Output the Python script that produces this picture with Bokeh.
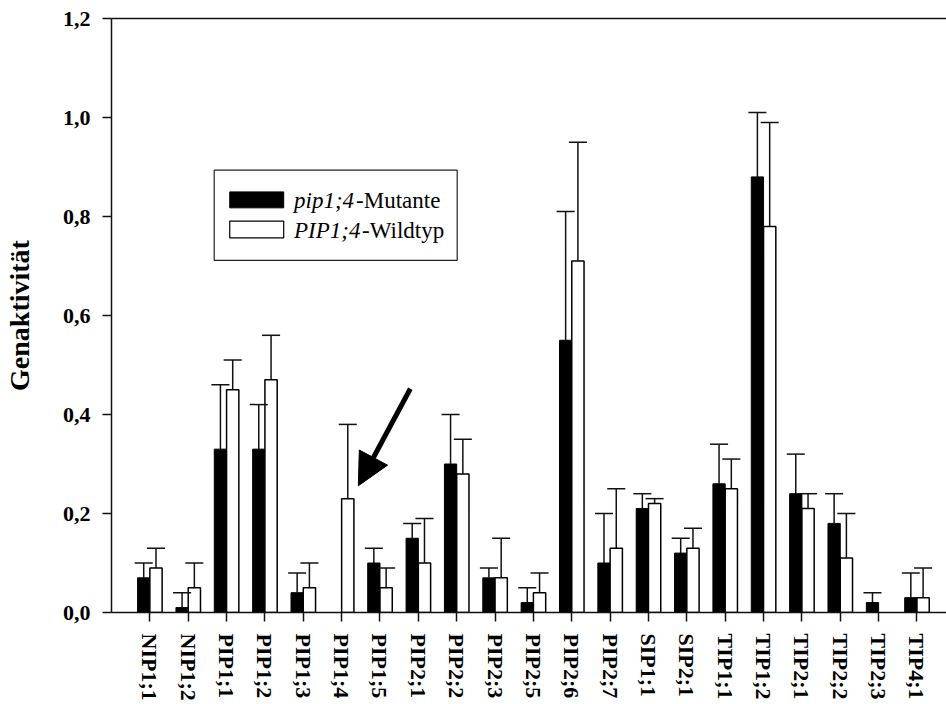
from bokeh.plotting import figure
from bokeh.models import Range1d, FixedTicker, LinearAxis, Arrow, NormalHead
from bokeh.core.properties import value
from bokeh.embed import file_html
from bokeh.resources import INLINE

genes = ["NIP1;1", "NIP1;2", "PIP1;1", "PIP1;2", "PIP1;3", "PIP1;4", "PIP1;5",
         "PIP2;1", "PIP2;2", "PIP2;3", "PIP2;5", "PIP2;6", "PIP2;7", "SIP1;1",
         "SIP2;1", "TIP1;1", "TIP1;2", "TIP2;1", "TIP2;2", "TIP2;3", "TIP4;1"]
mutant = [0.07, 0.01, 0.33, 0.33, 0.04, 0.0, 0.10, 0.15, 0.30, 0.07, 0.02,
          0.55, 0.10, 0.21, 0.12, 0.26, 0.88, 0.24, 0.18, 0.02, 0.03]
mutant_err = [0.03, 0.03, 0.13, 0.09, 0.04, 0.0, 0.03, 0.03, 0.10, 0.02, 0.03,
              0.26, 0.10, 0.03, 0.03, 0.08, 0.13, 0.08, 0.06, 0.02, 0.05]
wild = [0.09, 0.05, 0.45, 0.47, 0.05, 0.23, 0.05, 0.10, 0.28, 0.07, 0.04,
        0.71, 0.13, 0.22, 0.13, 0.25, 0.78, 0.21, 0.11, 0.0, 0.03]
wild_err = [0.04, 0.05, 0.06, 0.09, 0.05, 0.15, 0.04, 0.09, 0.07, 0.08, 0.04,
            0.24, 0.12, 0.01, 0.04, 0.06, 0.21, 0.03, 0.09, 0.0, 0.06]
y_ticks = [0.0, 0.2, 0.4, 0.6, 0.8, 1.0, 1.2]
y_tick_labels = ["0,0", "0,2", "0,4", "0,6", "0,8", "1,0", "1,2"]
legend_labels = [("pip1;4", "-Mutante"), ("PIP1;4", "-Wildtyp")]
highlight_gene = "PIP1;4"

SERIF = "'Liberation Serif', serif"
LINE = "#111111"
BAR_W = 0.32
OFF = 0.16
CAP = 0.47

p = figure(width=946, height=704, x_range=Range1d(0, 21.77), y_range=Range1d(0, 1.2),
           output_backend="svg", toolbar_location=None,
           min_border_left=110, min_border_right=0, min_border_top=18, min_border_bottom=92)
p.outline_line_color = None
p.grid.visible = False
p.background_fill_color = "white"
p.border_fill_color = "white"

pos = list(range(1, len(genes) + 1))

def series(vals, errs, shift):
    xs, tops, es = [], [], []
    for x, v, e in zip(pos, vals, errs):
        if v > 0 or e > 0:
            xs.append(x + shift)
            tops.append(v)
            es.append(e)
    return xs, tops, es

mx, mt, me = series(mutant, mutant_err, -OFF)
wx, wt, we = series(wild, wild_err, OFF)

p.vbar(x=mx, top=mt, width=BAR_W, bottom=0, fill_color="black", line_color="black", line_width=1)
p.vbar(x=wx, top=wt, width=BAR_W, bottom=0, fill_color="white", line_color="black", line_width=1.5)

for xs, tops, es in [(mx, mt, me), (wx, wt, we)]:
    hi = [t + e for t, e in zip(tops, es)]
    p.segment(x0=xs, y0=tops, x1=xs, y1=hi, line_color=LINE, line_width=1.5)
    p.segment(x0=[x - CAP / 2 for x in xs], y0=hi, x1=[x + CAP / 2 for x in xs], y1=hi,
              line_color=LINE, line_width=1.5)

# axes
xa = p.xaxis[0]
xa.ticker = FixedTicker(ticks=pos)
xa.major_label_overrides = {i: g for i, g in zip(pos, genes)}
xa.major_label_orientation = "vertical"
ya = p.yaxis[0]
ya.ticker = FixedTicker(ticks=y_ticks)
ya.major_label_overrides = {t: l for t, l in zip(y_ticks, y_tick_labels)}
ya.axis_label = "Genaktivität"
ya.axis_label_text_font = SERIF
ya.axis_label_text_font_size = "28px"
ya.axis_label_text_font_style = "bold"
ya.axis_label_text_color = "black"
ya.axis_label_standoff = 25
for ax in (xa, ya):
    ax.major_label_text_font = SERIF
    ax.major_label_text_font_size = "22px"
    ax.major_label_text_font_style = "bold"
    ax.major_label_text_color = "black"
    ax.major_tick_out = 9
    ax.major_tick_in = 0
    ax.minor_tick_line_color = None
    ax.axis_line_color = LINE
    ax.axis_line_width = 1.5
    ax.major_tick_line_color = LINE
    ax.major_tick_line_width = 1.5
xa.major_label_standoff = 12
ya.major_label_standoff = 12

top_axis = LinearAxis(ticker=FixedTicker(ticks=[]), major_label_text_font_size="0px",
                      axis_line_color=LINE, axis_line_width=1.5,
                      major_tick_line_color=None, minor_tick_line_color=None)
p.add_layout(top_axis, "above")

# legend drawn by hand
p.quad(left=[2.677], right=[9.013], bottom=[0.7114], top=[0.8935],
       fill_color="white", line_color="#222222", line_width=1.2)
p.quad(left=[3.083], right=[4.49], bottom=[0.8175], top=[0.8497],
       fill_color="black", line_color="black", line_width=1)
p.quad(left=[3.083], right=[4.49], bottom=[0.757], top=[0.7907],
       fill_color="white", line_color="black", line_width=1.2)
text_y = [0.833, 0.7725]
italic_w = [62, 68]
for (it, rest), ty, w in zip(legend_labels, text_y, italic_w):
    p.text(x=[4.76], y=[ty], text=[it], text_font=value(SERIF), text_font_size="23px",
           text_font_style="italic", text_baseline="middle", text_align="left", text_color="black")
    p.text(x=[4.76], y=[ty], text=[rest], text_font=value(SERIF), text_font_size="23px",
           text_baseline="middle", text_align="left", text_color="black", x_offset=w)

# arrow pointing to the wild-type PIP1;4 bar
gi = genes.index(highlight_gene)
tip_x = pos[gi] + 0.435
tip_y = wild[gi] + 0.026
p.add_layout(Arrow(end=NormalHead(size=32, fill_color="black", line_color="black"),
                   x_start=tip_x + 1.355, y_start=tip_y + 0.196, x_end=tip_x, y_end=tip_y,
                   line_width=5, line_color="black"))

open("out.html", "w").write(file_html(p, INLINE))
